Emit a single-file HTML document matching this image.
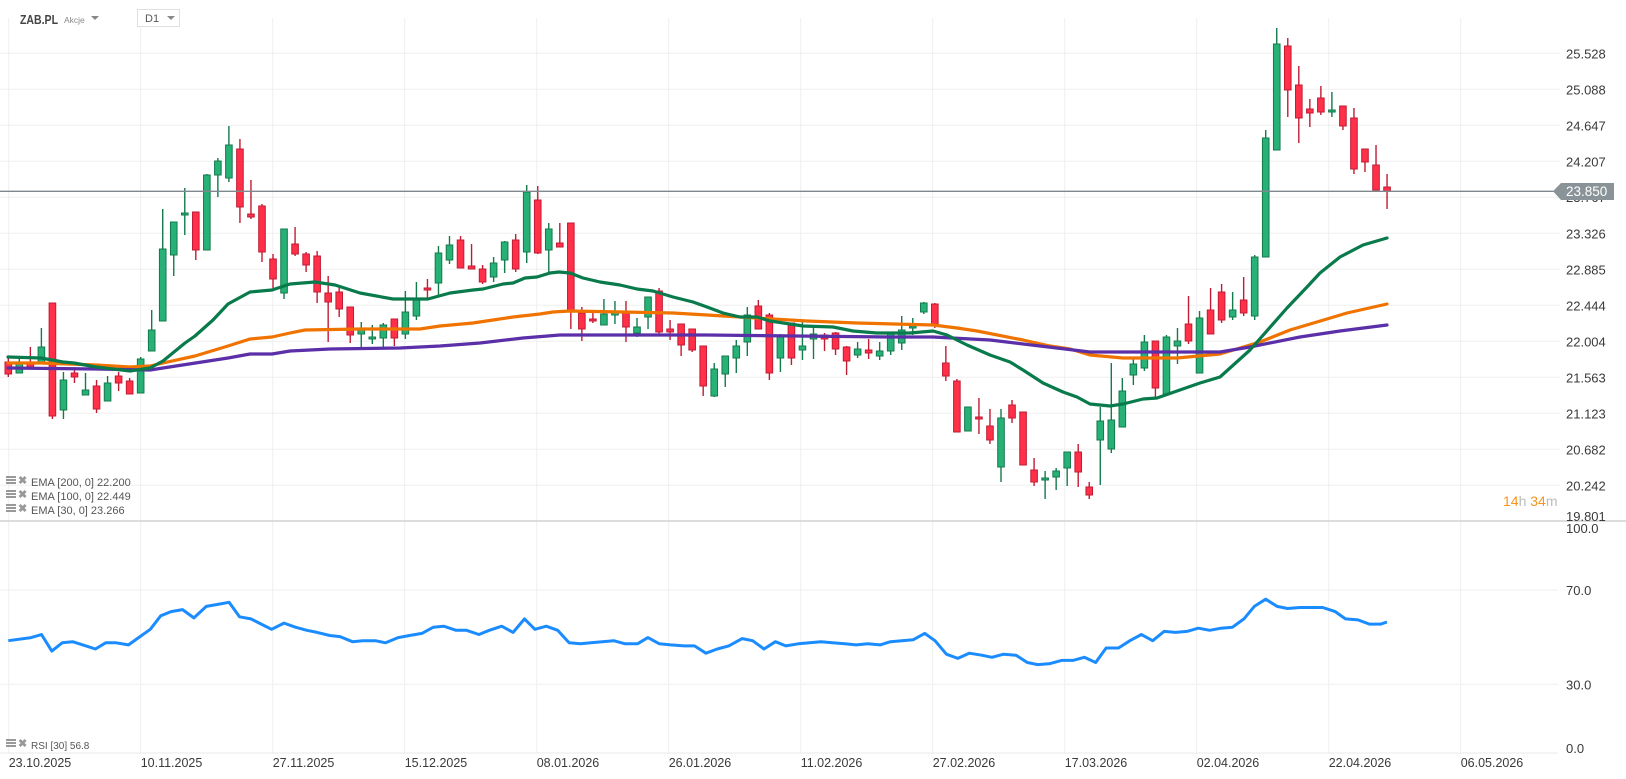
<!DOCTYPE html>
<html><head><meta charset="utf-8"><style>
body{margin:0;background:#fff;width:1626px;height:779px;overflow:hidden;font-family:"Liberation Sans",sans-serif}
svg{position:absolute;left:0;top:0}
</style></head><body>
<svg id="s" width="1626" height="779" xmlns="http://www.w3.org/2000/svg" font-family="Liberation Sans, sans-serif">
<g id="grid" stroke="#efefef" stroke-width="1"></g>
<line x1="0" y1="521" x2="1626" y2="521" stroke="#d0d0d0" stroke-width="1.5"/>
<line x1="0" y1="753" x2="1558" y2="753" stroke="#e8e8e8"/>
<g id="candles"></g>
<g id="emas" fill="none" stroke-width="3.2" stroke-linejoin="round" stroke-linecap="round"></g>
<g id="rsi" fill="none" stroke="#1a8cff" stroke-width="3" stroke-linejoin="round"></g>
<g id="labels" font-size="13" fill="#3a3a3a"></g>
<line x1="0" y1="191.3" x2="1556" y2="191.3" stroke="#7f888c" stroke-width="1.3"/>
<text x="1566" y="202" font-size="13" fill="#3a3a3a">23.767</text>
<polygon points="1553,191.3 1561,183 1614,183 1614,200 1561,200" fill="#8a9498"/>
<text x="1566" y="196" font-size="13.5" fill="#fff">23.850</text>
<text x="1503" y="506" font-size="14"><tspan fill="#f7931e">14</tspan><tspan fill="#bbb">h </tspan><tspan fill="#f7931e">34</tspan><tspan fill="#bbb">m</tspan></text>
<text x="20" y="24" font-size="12.5" font-weight="bold" fill="#444" textLength="38" lengthAdjust="spacingAndGlyphs">ZAB.PL</text>
<text x="64" y="23" font-size="8.5" fill="#888">Akcje</text>
<polygon points="91,16 99,16 95,20" fill="#888"/>
<rect x="137.5" y="9.5" width="42" height="17" fill="#fff" stroke="#e0e0e0"/>
<text x="145" y="22" font-size="11" fill="#555">D1</text>
<polygon points="167,16 175,16 171,20" fill="#888"/>
<g font-size="11" fill="#555">
<text x="31" y="486">EMA [200, 0] 22.200</text>
<text x="31" y="500">EMA [100, 0] 22.449</text>
<text x="31" y="514">EMA [30, 0] 23.266</text>
<text x="31" y="749" font-size="10">RSI [30] 56.8</text>
</g>
<g id="icons" fill="#999"></g>
</svg>
<script>
const NS="http://www.w3.org/2000/svg";
function el(p,t,a,txt){const e=document.createElementNS(NS,t);for(const k in a)e.setAttribute(k,a[k]);if(txt!=null)e.textContent=txt;document.getElementById(p).appendChild(e);return e;}
for(let k=0;k<13;k++){const y=53.3+36*k;el('grid','line',{x1:0,y1:y,x2:1560,y2:y});}
[590,684.3].forEach(y=>el('grid','line',{x1:0,y1:y,x2:1558,y2:y}));
for(let k=0;k<12;k++){const x=8.7+132*k;el('grid','line',{x1:x,y1:18,x2:x,y2:753});}
const pl=[["25.528",53.3],["25.088",89.3],["24.647",125.3],["24.207",161.3],["23.326",233.3],["22.885",269.3],["22.444",305.3],["22.004",341.3],["21.563",377.3],["21.123",413.3],["20.682",449.3],["20.242",485.3],["19.801",516]];
pl.forEach(([t,y])=>el('labels','text',{x:1566,y:y+5},t));
[["100.0",528],["70.0",590],["30.0",684.3],["0.0",748]].forEach(([t,y])=>el('labels','text',{x:1566,y:y+5},t));
const dates=["23.10.2025","10.11.2025","27.11.2025","15.12.2025","08.01.2026","26.01.2026","11.02.2026","27.02.2026","17.03.2026","02.04.2026","22.04.2026","06.05.2026"];
dates.forEach((d,k)=>el('labels','text',{x:8.7+132*k,y:767,"font-size":12.5},d));
const C=[
[362,374,358,377,'r'],[363,373,357,373,'g'],[362,367,347,369,'r'],[347,363,328,363,'g'],[303,416,303,419,'r'],
[380,410,372,419,'g'],[373,377,367,383,'r'],[390,395,373,395,'g'],[386,409,380,413,'r'],[383,401,376,401,'g'],
[376,383,372,391,'r'],[381,394,378,394,'r'],[359,393,357,393,'g'],[330,351,310,351,'g'],[249,321,209,321,'g'],
[222,255,222,276,'g'],[213,215,188,235,'g'],[212,250,212,260,'r'],[175,250,174,250,'g'],[161,175,158,197,'g'],
[145,178,126,182,'g'],[149,207,139,223,'r'],[214,217,180,219,'r'],[206,252,204,262,'r'],[259,279,254,288,'r'],
[229,293,229,299,'g'],[244,254,227,256,'r'],[254,265,252,272,'r'],[256,292,251,303,'r'],[293,302,276,342,'r'],
[292,309,287,317,'r'],[307,335,307,343,'r'],[330,334,322,347,'g'],[337,339,325,344,'g'],[325,338,323,347,'g'],
[319,338,319,346,'r'],[312,334,291,339,'g'],[299,316,282,320,'g'],[288,290,279,298,'r'],[253,283,246,295,'g'],
[245,260,236,264,'g'],[240,268,236,268,'r'],[266,269,244,269,'r'],[269,282,265,284,'r'],[263,277,257,282,'g'],
[242,260,241,273,'g'],[240,269,234,272,'r'],[192,252,185,263,'g'],[200,253,186,254,'r'],[229,250,223,272,'g'],
[243,247,223,247,'r'],[223,311,223,329,'r'],[313,329,307,341,'r'],[319,321,310,323,'r'],[314,325,299,325,'g'],
[313,314,301,324,'g'],[312,327,301,342,'r'],[327,333,318,337,'g'],[297,317,297,329,'g'],[291,332,288,334,'r'],
[329,332,320,340,'r'],[324,345,324,356,'r'],[329,350,329,352,'r'],[346,386,346,396,'r'],[369,396,363,397,'g'],
[356,374,356,387,'g'],[346,358,340,373,'g'],[315,342,307,356,'g'],[306,329,300,329,'r'],[315,373,313,380,'r'],
[335,358,334,372,'g'],[323,358,323,365,'r'],[346,350,322,360,'g'],[334,339,326,359,'g'],[335,339,333,351,'r'],
[333,349,332,355,'r'],[347,361,346,375,'r'],[349,355,342,358,'g'],[350,353,339,359,'r'],[351,356,342,360,'g'],
[334,351,334,355,'g'],[330,343,316,350,'g'],[326,327,318,335,'g'],[303,312,302,314,'g'],[304,324,303,328,'r'],
[363,376,346,381,'r'],[381,432,379,432,'r'],[407,431,407,431,'g'],[417,419,398,434,'r'],[426,440,409,444,'r'],
[418,467,409,482,'g'],[405,418,400,423,'r'],[412,465,412,465,'r'],[470,482,458,486,'r'],[478,480,471,499,'g'],
[471,477,468,490,'g'],[452,468,452,486,'g'],[452,472,444,487,'r'],[487,495,482,499,'r'],[421,440,407,485,'g'],
[420,449,363,453,'g'],[391,427,378,427,'g'],[364,375,359,385,'g'],[342,368,335,371,'g'],[341,388,341,397,'r'],
[337,394,335,394,'g'],[341,346,328,364,'g'],[324,341,296,344,'r'],[318,373,311,373,'g'],[310,334,288,334,'r'],
[292,320,284,323,'r'],[310,317,292,320,'g'],[300,313,277,316,'r'],[257,316,255,320,'g'],[138,257,130,257,'g'],
[44,150,28,150,'g'],[46,90,38,117,'r'],[85,118,66,143,'r'],[109,113,99,127,'r'],[98,112,86,115,'r'],
[110,112,92,117,'g'],[106,126,106,130,'r'],[118,169,108,174,'r'],[149,162,149,172,'r'],[165,190,145,190,'r'],
[187,191,174,209,'r']];
C.forEach((c,i)=>{const x=8.3+11.03*i;const g=c[4]=='g';const fill=g?'#27b177':'#ff3048',st=g?'#137a4c':'#c21b34';
el('candles','line',{x1:x,y1:c[2],x2:x,y2:c[3],stroke:st,"stroke-width":1.4});
let h=Math.max(c[1]-c[0],2);el('candles','rect',{x:x-3.3,y:c[0],width:6.6,height:h,fill:fill,stroke:st,"stroke-width":1});});
function poly(pts,col){el('emas','polyline',{points:pts.map(p=>p.join(',')).join(' '),stroke:col});}
poly([[8,363],[41,363],[96,365],[130,367],[150,366],[163,363],[195,356],[228,346],[250,339],[272,337],[290,333],[305,330],[360,329],[420,329],[440,326],[473,323],[493,320],[513,317],[540,314],[553,312],[570,311],[673,313],[707,315],[740,317],[807,321],[857,323],[933,325],[957,328],[977,331],[1023,340],[1050,346],[1070,349],[1090,355],[1123,358],[1177,358],[1220,354],[1260,342],[1290,330],[1327,319],[1347,313],[1387,304]],'#f07300');
poly([[8,368],[96,369],[150,370],[163,368],[228,358],[250,354],[272,354],[290,351],[330,349],[400,348],[440,346],[480,343],[523,338],[560,335],[607,335],[707,335],[890,337],[933,337],[990,340],[1040,346],[1090,352],[1220,352],[1250,347],[1300,337],[1340,331],[1387,325]],'#5a2fa8');
poly([[8,357],[41,358],[63,362],[74,363],[96,367],[130,371],[150,368],[163,361],[185,343],[195,336],[213,320],[228,304],[250,292],[272,290],[290,284],[315,282],[335,285],[360,293],[393,299],[428,299],[450,293],[473,290],[483,289],[503,284],[513,283],[525,278],[537,277],[550,273],[559,272],[570,273],[583,278],[600,282],[620,285],[637,289],[653,291],[673,297],[693,302],[707,307],[723,313],[740,317],[757,317],[770,321],[790,324],[803,326],[833,327],[853,331],[877,333],[910,333],[933,331],[947,335],[967,345],[990,355],[1010,362],[1023,370],[1043,383],[1063,392],[1077,397],[1090,404],[1110,406],[1123,404],[1143,399],[1157,398],[1177,391],[1200,383],[1220,377],[1250,350],[1287,308],[1307,287],[1320,273],[1340,257],[1363,245],[1387,238]],'#097a4b');
const R=[[8,617],[30,614],[40,611],[50,627],[60,619],[70,618],[80,621],[92,625],[102,619],[112,619],[124,621],[135,613],[145,606],[155,593],[165,589],[176,587],[187,595],[199,584],[210,582],[221,580],[231,594],[242,596],[252,601],[262,606],[274,600],[285,604],[296,607],[306,609],[318,612],[328,613],[340,618],[350,617],[362,617],[372,619],[384,614],[395,612],[407,610],[418,604],[428,603],[440,607],[450,607],[462,611],[472,607],[484,603],[495,609],[506,596],[516,606],[527,603],[538,607],[549,619],[560,620],[570,619],[581,618],[592,617],[603,620],[615,620],[625,614],[636,620],[647,621],[660,622],[670,622],[681,629],[692,625],[703,622],[716,615],[726,617],[737,625],[748,618],[758,622],[770,620],[781,619],[792,618],[803,619],[815,620],[826,621],[837,620],[849,621],[859,618],[870,617],[881,616],[892,610],[902,617],[913,630],[924,634],[935,629],[947,631],[957,633],[968,630],[980,631],[991,638],[1001,640],[1013,639],[1024,636],[1035,636],[1046,633],[1057,638],[1067,624],[1079,624],[1090,617],[1101,611],[1112,617],[1123,608],[1134,609],[1145,608],[1156,605],[1167,607],[1178,605],[1189,604],[1200,596],[1210,584],[1221,577],[1232,584],[1242,586],[1254,585],[1265,585],[1276,585],[1288,589],[1298,596],[1310,597],[1321,601],[1332,601],[1338,599]];
el('rsi','polyline',{points:R.map(p=>[(8.3+(p[0]-8)*1378.7/1330).toFixed(1),(p[1]/0.963).toFixed(1)].join(',')).join(' ')});
[482,496,510,745].forEach(y=>{el('icons','rect',{x:6,y:y-6,width:10,height:2});el('icons','rect',{x:6,y:y-3,width:10,height:2});el('icons','rect',{x:6,y:y,width:10,height:2});el('icons','text',{x:18,y:y+2,"font-size":11,"font-weight":"bold"},'✖');});
</script>
</body></html>
